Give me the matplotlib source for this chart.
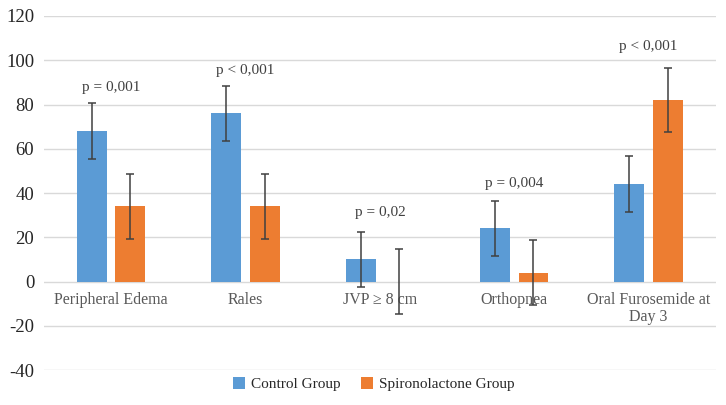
import numpy as np
import matplotlib.pyplot as plt

plt.rcParams['font.family'] = ['Liberation Serif', 'DejaVu Serif']
plt.rcParams['axes.unicode_minus'] = False

categories = ["Peripheral Edema", "Rales", "JVP \u2265 8 cm", "Orthopnea", "Oral Furosemide at\nDay 3"]
control = [68, 76, 10, 24, 44]
spiro = [34, 34, 0, 4, 82]
control_err = [12.5, 12.5, 12.5, 12.6, 12.5]
spiro_err = [14.6, 14.6, 14.6, 14.6, 14.6]
p_labels = ["p = 0,001", "p < 0,001", "p = 0,02", "p = 0,004", "p < 0,001"]
p_y = [87.5, 95.5, 31, 44.5, 106]

blue = "#5B9BD5"
orange = "#ED7D31"

fig = plt.figure(figsize=(7.26, 4.05), dpi=100)
ax = fig.add_axes([0.0606, 0.0864, 0.9254, 0.8741])

x = np.arange(len(categories))
w = 0.223
off = 0.143
ekw = dict(ecolor="#404040", elinewidth=1.1, capsize=3, capthick=1.1)
ax.bar(x - off, control, w, color=blue, yerr=control_err, error_kw=ekw, label="Control Group", zorder=2)
ax.bar(x + off, spiro, w, color=orange, yerr=spiro_err, error_kw=ekw, label="Spironolactone Group", zorder=2)

for xi, lab, py in zip(x, p_labels, p_y):
    ax.text(xi, py, lab, ha="center", va="center", fontsize=11, color="#404040")

for xi, cat in zip(x, categories):
    ax.text(xi, -4.8, cat, ha="center", va="top", fontsize=11.5, color="#595959", linespacing=1.05, zorder=1)

ax.set_xlim(-0.5, len(categories) - 0.5)
ax.set_ylim(-40, 120)
ax.set_yticks(np.arange(-40, 121, 20))
ax.set_xticks([])
ax.tick_params(axis="y", length=0, labelsize=13.5, labelcolor="#262626", pad=7)
ax.grid(axis="y", color="#D9D9D9", linewidth=1, zorder=0)
ax.set_axisbelow(True)
for s in ax.spines.values():
    s.set_visible(False)

leg = fig.legend(loc="lower center", bbox_to_anchor=(0.515, 0.0), ncol=2, frameon=False,
                 prop={"family": "Liberation Serif", "size": 11}, handlelength=0.8, handleheight=0.8,
                 handletextpad=0.4, columnspacing=1.3)
for t in leg.get_texts():
    t.set_color("#262626")

fig.savefig("out.png", dpi=100)
